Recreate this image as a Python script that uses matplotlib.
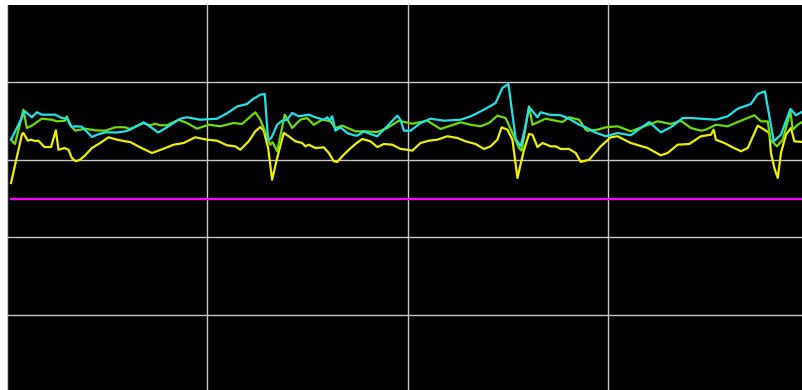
import matplotlib
matplotlib.use("Agg")
import matplotlib.pyplot as plt

# three leads, time in s, amplitude in mV
t_yellow = [0.02, 0.075, 0.082, 0.104, 0.12, 0.14, 0.157, 0.187, 0.22, 0.244, 0.257, 0.287,
            0.307, 0.324, 0.344, 0.365, 0.39, 0.424, 0.465, 0.507, 0.549, 0.59, 0.615, 0.665,
            0.724, 0.782, 0.832, 0.882, 0.94, 0.999, 1.049, 1.099, 1.14, 1.165, 1.207, 1.24,
            1.265, 1.282, 1.304, 1.324, 1.349, 1.382, 1.407, 1.44, 1.474, 1.49, 1.507, 1.54,
            1.582, 1.607, 1.632, 1.649, 1.674, 1.707, 1.74, 1.774, 1.815, 1.849, 1.882, 1.924,
            1.965, 1.999, 2.024, 2.065, 2.107, 2.149, 2.199, 2.249, 2.29, 2.34, 2.382, 2.415,
            2.449, 2.47, 2.499, 2.524, 2.549, 2.582, 2.607, 2.624, 2.649, 2.674, 2.715, 2.74,
            2.765, 2.807, 2.84, 2.865, 2.907, 2.965, 3.015, 3.049, 3.115, 3.199, 3.265, 3.299,
            3.349, 3.407, 3.465, 3.515, 3.529, 3.54, 3.582, 3.624, 3.665, 3.699, 3.749, 3.782,
            3.807, 3.815, 3.832, 3.849, 3.865, 3.89, 3.915, 3.932, 3.975, 4.0]
v_yellow = [0.20, 0.833, 0.846, 0.747, 0.760, 0.743, 0.747, 0.665, 0.665, 0.881, 0.630, 0.652,
            0.630, 0.523, 0.481, 0.501, 0.558, 0.652, 0.717, 0.791, 0.760, 0.739, 0.730, 0.661,
            0.588, 0.643, 0.695, 0.717, 0.791, 0.760, 0.747, 0.687, 0.674, 0.630, 0.739, 0.868,
            0.924, 0.876, 0.652, 0.243, 0.523, 0.846, 0.804, 0.739, 0.717, 0.674, 0.695, 0.652,
            0.661, 0.588, 0.481, 0.472, 0.545, 0.630, 0.704, 0.769, 0.739, 0.665, 0.704, 0.695,
            0.640, 0.630, 0.618, 0.717, 0.747, 0.760, 0.804, 0.782, 0.739, 0.704, 0.640, 0.674,
            0.760, 0.920, 0.889, 0.760, 0.265, 0.630, 0.833, 0.824, 0.665, 0.717, 0.674, 0.674,
            0.640, 0.640, 0.588, 0.472, 0.501, 0.674, 0.791, 0.804, 0.717, 0.652, 0.558, 0.588,
            0.695, 0.704, 0.804, 0.824, 0.889, 0.760, 0.717, 0.661, 0.610, 0.652, 0.941, 0.889,
            0.846, 0.588, 0.394, 0.265, 0.588, 0.824, 0.911, 0.739, 0.730, 0.730]

t_green = [0.02, 0.04, 0.082, 0.099, 0.124, 0.174, 0.224, 0.249, 0.29, 0.299, 0.315, 0.34,
           0.39, 0.44, 0.49, 0.54, 0.59, 0.615, 0.682, 0.715, 0.74, 0.765, 0.799, 0.857,
           0.899, 0.949, 1.007, 1.065, 1.132, 1.174, 1.24, 1.265, 1.299, 1.315, 1.327, 1.349,
           1.387, 1.424, 1.465, 1.499, 1.532, 1.574, 1.615, 1.64, 1.674, 1.74, 1.782, 1.849,
           1.899, 1.957, 2.024, 2.099, 2.165, 2.215, 2.265, 2.315, 2.365, 2.407, 2.449, 2.49,
           2.524, 2.557, 2.57, 2.607, 2.624, 2.69, 2.774, 2.807, 2.857, 2.89, 2.899, 2.949,
           2.99, 3.049, 3.115, 3.182, 3.249, 3.315, 3.365, 3.415, 3.465, 3.49, 3.54, 3.599,
           3.665, 3.732, 3.765, 3.799, 3.812, 3.845, 3.874, 3.912, 3.924, 3.949, 3.975, 4.0]
v_green = [0.760, 0.704, 1.147, 0.911, 0.941, 1.031, 1.018, 0.997, 1.005, 1.062, 0.953, 0.876,
           0.902, 0.881, 0.876, 0.920, 0.920, 0.898, 0.975, 0.946, 0.966, 0.946, 0.946, 1.018,
           0.975, 0.902, 0.953, 0.933, 0.975, 0.963, 1.114, 1.018, 0.804, 0.695, 0.726, 0.610,
           1.083, 0.911, 1.018, 1.040, 0.953, 1.018, 0.997, 0.911, 0.941, 0.868, 0.868, 0.859,
           0.911, 1.005, 0.966, 1.005, 0.898, 0.941, 0.984, 0.953, 0.933, 0.975, 1.070, 1.040,
           0.846, 0.652, 0.618, 1.191, 0.953, 1.031, 0.988, 1.049, 1.018, 0.889, 0.876, 0.889,
           0.920, 0.933, 0.868, 0.933, 0.997, 0.963, 1.005, 0.911, 0.876, 0.889, 0.953, 0.933,
           1.005, 1.075, 0.997, 0.997, 0.760, 0.674, 0.760, 1.127, 0.889, 0.953, 0.997, 1.0]

t_cyan = [0.02, 0.057, 0.09, 0.124, 0.149, 0.174, 0.24, 0.274, 0.299, 0.324, 0.34, 0.374,
          0.424, 0.45, 0.49, 0.549, 0.59, 0.615, 0.682, 0.724, 0.755, 0.799, 0.865, 0.899,
          0.965, 1.049, 1.099, 1.149, 1.199, 1.224, 1.265, 1.287, 1.304, 1.32, 1.349, 1.374,
          1.399, 1.424, 1.457, 1.507, 1.54, 1.582, 1.599, 1.61, 1.624, 1.64, 1.665, 1.699,
          1.732, 1.749, 1.782, 1.815, 1.849, 1.89, 1.949, 1.965, 1.982, 2.015, 2.065, 2.115,
          2.182, 2.265, 2.315, 2.34, 2.39, 2.44, 2.474, 2.504, 2.54, 2.565, 2.587, 2.607,
          2.632, 2.649, 2.665, 2.707, 2.765, 2.807, 2.857, 2.89, 2.932, 2.99, 3.049, 3.115,
          3.165, 3.207, 3.265, 3.315, 3.374, 3.415, 3.465, 3.54, 3.599, 3.649, 3.715, 3.749,
          3.785, 3.829, 3.865, 3.912, 3.94, 3.975, 4.0]
v_cyan = [0.760, 0.953, 1.127, 1.049, 1.114, 1.083, 1.083, 1.040, 1.031, 0.920, 0.933, 0.928,
          0.795, 0.824, 0.855, 0.853, 0.868, 0.889, 0.984, 0.911, 0.853, 0.920, 1.031, 1.049,
          1.018, 1.031, 1.101, 1.189, 1.221, 1.276, 1.341, 1.350, 0.760, 0.782, 0.953, 1.005,
          1.018, 1.105, 1.062, 1.083, 1.049, 1.018, 1.049, 1.005, 1.062, 0.876, 0.920, 0.846,
          0.817, 0.811, 0.868, 0.833, 0.804, 0.911, 1.070, 1.018, 0.876, 0.876, 0.975, 1.031,
          1.005, 1.018, 1.062, 1.092, 1.160, 1.234, 1.428, 1.479, 0.773, 0.674, 0.911, 1.178,
          1.105, 1.049, 1.114, 1.083, 1.075, 1.031, 0.953, 0.920, 0.859, 0.804, 0.846, 0.817,
          0.911, 0.988, 0.855, 0.920, 1.040, 1.040, 1.031, 1.018, 1.062, 1.160, 1.221, 1.350,
          1.385, 0.739, 0.824, 1.156, 1.075, 1.127, 1.12]

# reference level
t_ref = [0.02, 4.0]
v_ref = [0.0, 0.0]

X_GRID = [0, 1, 2, 3]
Y_GRID = [-1.5, -0.5, 0.5, 1.5]


def main():
    fig = plt.figure(figsize=(8.02, 3.90), dpi=100)
    fig.patch.set_facecolor('white')
    ax = fig.add_axes([7 / 802, -2 / 390, 801 / 802, 387 / 390])
    ax.set_facecolor('black')

    ax.set_xlim(0, 4)
    ax.set_ylim(-2.5, 2.5)
    ax.set_xticks(X_GRID)
    ax.set_yticks(Y_GRID)
    ax.tick_params(length=0, labelbottom=False, labelleft=False)
    ax.grid(True, color='#c8c8c8', linewidth=1.0)
    ax.set_axisbelow(True)
    for sp in ax.spines.values():
        sp.set_visible(False)

    ax.plot(t_ref, v_ref, color='#ff00ff', linewidth=1.6)
    ax.plot(t_yellow, v_yellow, color='#eeee00', linewidth=1.6)
    ax.plot(t_green, v_green, color='#6edc00', linewidth=1.6)
    ax.plot(t_cyan, v_cyan, color='#22e2ea', linewidth=1.6)

    fig.savefig('out.png', dpi=100, facecolor=fig.get_facecolor())


if __name__ == "__main__":
    main()
